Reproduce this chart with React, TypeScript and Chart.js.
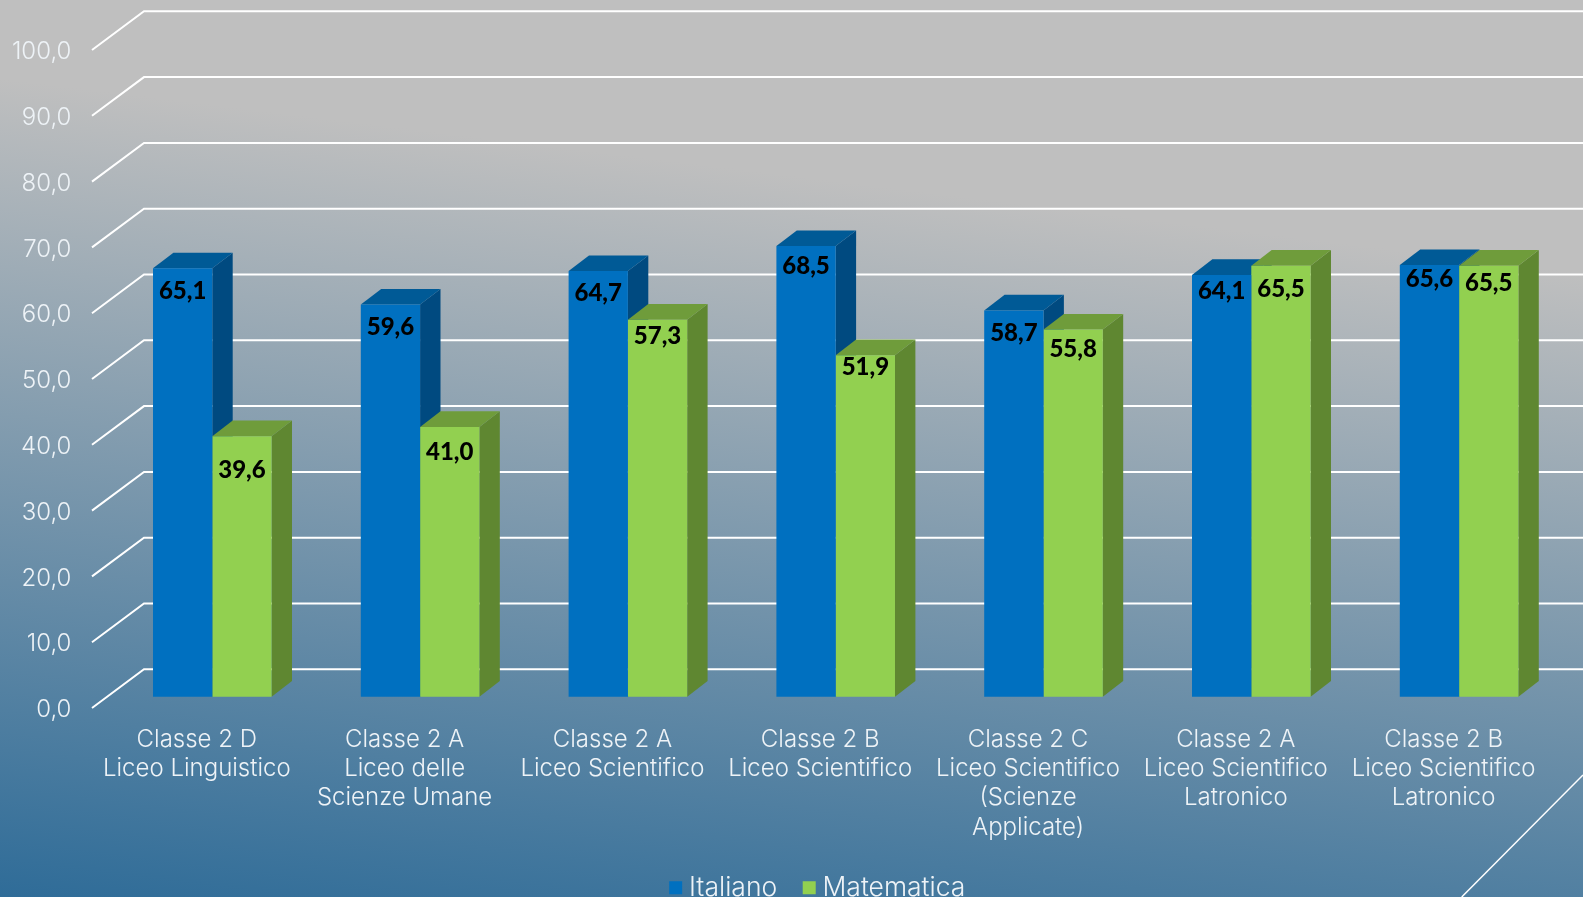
import React, { useEffect, useRef } from "react";
import { Chart, registerables } from "chart.js";

Chart.register(...registerables);

const categories = [
  ["Classe 2 D", "Liceo Linguistico"],
  ["Classe 2 A", "Liceo delle", "Scienze Umane"],
  ["Classe 2 A", "Liceo Scientifico"],
  ["Classe 2 B", "Liceo Scientifico"],
  ["Classe 2 C", "Liceo Scientifico", "(Scienze", "Applicate)"],
  ["Classe 2 A", "Liceo Scientifico", "Latronico"],
  ["Classe 2 B", "Liceo Scientifico", "Latronico"],
];
const italiano = [65.1, 59.6, 64.7, 68.5, 58.7, 64.1, 65.6];
const matematica = [39.6, 41.0, 57.3, 51.9, 55.8, 65.5, 65.5];
const italianoLabelDrop = [21, 21, 21, 19, 21, 15, 13];
const matematicaLabelDrop = [32, 24, 15, 10, 18, 22, 16];

const W = 1583;
const H = 897;
const FONT = "Inter, Lato, sans-serif";
const fmt = (v: number) => v.toFixed(1).replace(".", ",");

const depthFaces = [
  { top: "#005a96", side: "#004a80" },
  { top: "#6f9c3b", side: "#5f8731" },
];

const walls = {
  id: "walls",
  afterLayout(chart: any) {
    chart.legend.left += 39;
    chart.legend.right += 39;
  },
  beforeDatasetsDraw(chart: any) {
    const { ctx, chartArea, scales } = chart;
    const fx = chartArea.left - 16.4;
    ctx.save();
    ctx.strokeStyle = "#ffffff";
    ctx.lineWidth = 2;
    ctx.lineJoin = "miter";
    scales.yTicks.ticks.forEach((t: any) => {
      const y = scales.yTicks.getPixelForValue(t.value);
      ctx.beginPath();
      ctx.moveTo(fx, y - 2);
      ctx.lineTo(fx + 52, y - 40.7);
      ctx.lineTo(W, y - 40.7);
      ctx.stroke();
    });
    // corner decoration
    ctx.lineWidth = 1.5;
    ctx.beginPath();
    ctx.moveTo(1461.7, H);
    ctx.lineTo(W, 775);
    ctx.stroke();

    // depth faces of the bars, behind every front face
    const dx = 20.4;
    const dy = 15.6;
    const n = chart.data.labels.length;
    for (let i = 0; i < n; i++) {
      [0, 1].forEach((d) => {
        const el = chart.getDatasetMeta(d).data[i];
        const half = el.width / 2;
        const l = el.x - half;
        const r = el.x + half;
        ctx.fillStyle = depthFaces[d].side;
        ctx.beginPath();
        ctx.moveTo(r, el.y);
        ctx.lineTo(r + dx, el.y - dy);
        ctx.lineTo(r + dx, el.base - dy);
        ctx.lineTo(r, el.base);
        ctx.closePath();
        ctx.fill();
        ctx.fillStyle = depthFaces[d].top;
        ctx.beginPath();
        ctx.moveTo(l, el.y);
        ctx.lineTo(l + dx, el.y - dy);
        ctx.lineTo(r + dx, el.y - dy);
        ctx.lineTo(r, el.y);
        ctx.closePath();
        ctx.fill();
      });
    }
    ctx.restore();
  },
};

const barLabels = {
  id: "barLabels",
  afterDatasetsDraw(chart: any) {
    const { ctx } = chart;
    ctx.save();
    ctx.fillStyle = "#000000";
    ctx.font = `900 24px Lato, sans-serif`;
    ctx.textAlign = "center";
    ctx.textBaseline = "middle";
    [italianoLabelDrop, matematicaLabelDrop].forEach((drops, d) => {
      chart.getDatasetMeta(d).data.forEach((el: any, i: number) => {
        const v = chart.data.datasets[d].data[i];
        ctx.fillText(fmt(v), el.x, el.y + drops[i] * 1.01 + 1.5);
      });
    });
    ctx.restore();
  },
};

export default function App() {
  const ref = useRef<HTMLCanvasElement | null>(null);
  useEffect(() => {
    document.body.style.margin = "0";
    const chart = new Chart(ref.current!, {
      type: "bar",
      data: {
        labels: categories,
        datasets: [
          { label: "Italiano", data: italiano, backgroundColor: "#0070c0", categoryPercentage: 0.5707, barPercentage: 1 },
          { label: "Matematica", data: matematica, backgroundColor: "#92d050", categoryPercentage: 0.5707, barPercentage: 1 },
        ],
      },
      plugins: [walls, barLabels],
      options: {
        responsive: false,
        animation: false,
        devicePixelRatio: 1,
        layout: { padding: { top: 52, left: 0, right: 20, bottom: -14 } },
        plugins: {
          tooltip: { enabled: false },
          legend: {
            position: "bottom",
            labels: {
              color: "#eef3f7",
              font: { family: FONT, size: 26.5, weight: "300" },
              usePointStyle: true,
              pointStyle: "rect",
              boxHeight: 13,
              boxWidth: 0.01,
              padding: 32,
            },
          },
        },
        scales: {
          x: {
            grid: { display: false, drawTicks: false },
            border: { display: false },
            ticks: {
              color: "#eef3f7",
              font: { family: FONT, size: 24, weight: "300", lineHeight: "29.3px" },
              padding: 15,
              labelOffset: -15.5,
              maxRotation: 0,
              minRotation: 0,
              autoSkip: false,
            },
            afterFit(s: any) {
              s.height = 132.5;
            },
          },
          y: { display: false, min: -2.02, max: 97.98 },
          yTicks: {
            position: "left",
            min: 0,
            max: 100,
            grid: { display: false, drawTicks: false },
            border: { display: false },
            ticks: {
              stepSize: 10,
              color: "#eef3f7",
              font: { family: FONT, size: 24, weight: "300" },
              padding: 37,
              callback: (v: any) => fmt(Number(v)),
            },
            afterFit(s: any) {
              s.width = 108.4;
            },
          },
        },
      } as any,
    });
    return () => chart.destroy();
  }, []);
  return (
    <div
      style={{
        position: "fixed",
        left: 0,
        top: 0,
        width: W,
        height: H,
        overflow: "hidden",
        background: "linear-gradient(187deg, #bfbfbf 0%, #bfbfbf 25%, #2f6c98 100%)",
      }}
    >
      <canvas ref={ref} width={W} height={H} style={{ display: "block" }} />
    </div>
  );
}
